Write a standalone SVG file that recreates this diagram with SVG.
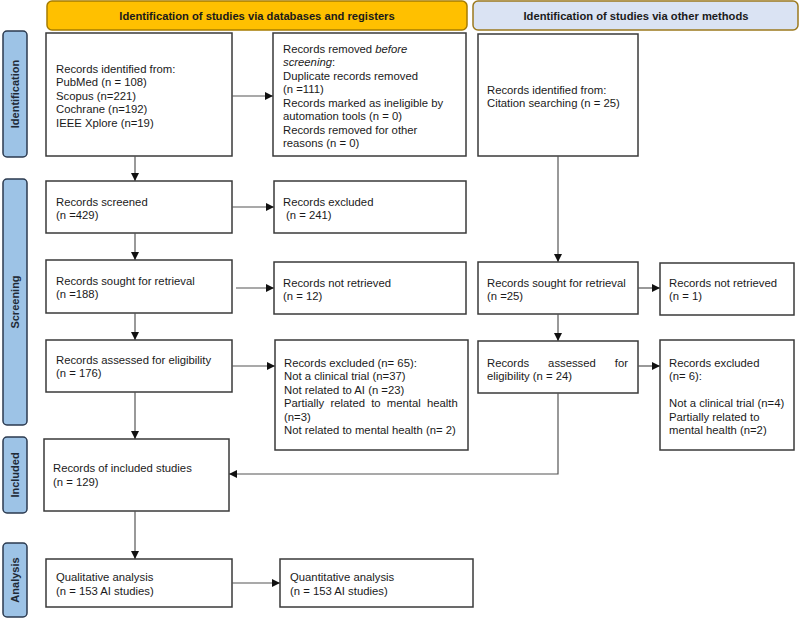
<svg xmlns="http://www.w3.org/2000/svg" width="800" height="619" viewBox="0 0 800 619">
<style>
text{font-family:"Liberation Sans",Arial,sans-serif;font-size:11.3px;fill:#1a1a1a}
.box{fill:#fff;stroke:#3a3a3a;stroke-width:1.5}
.side{fill:#9dc3e6;stroke:#2b3a4f;stroke-width:1.5}
.sl{font-weight:bold;font-size:11px;text-anchor:middle;fill:#1f2a36}
.hd{font-weight:bold;font-size:11.2px;text-anchor:middle;fill:#1a1a1a}
.c{fill:none;stroke:#555;stroke-width:1.2}
</style>
<defs>
<marker id="ah" viewBox="0 0 10 10" refX="10" refY="5" markerWidth="8" markerHeight="8" markerUnits="userSpaceOnUse" orient="auto">
<path d="M0,0 L10,5 L0,10 z" fill="#111"/>
</marker>
</defs>

<g id="header-db"><rect x="47" y="1" width="420" height="29" rx="5" fill="#ffc000" stroke="#a67c00" stroke-width="1.5"/><text class="hd" x="257" y="19.5">Identification of studies via databases and registers</text></g>
<g id="header-other"><rect x="473" y="1" width="325" height="29" rx="5" fill="#dae3f3" stroke="#9c7a1e" stroke-width="1.5"/><text class="hd" x="636" y="19.5">Identification of studies via other methods</text></g>

<g id="side-identification"><rect class="side" x="3" y="31" width="24" height="126" rx="4"/><text class="sl" transform="translate(19,94) rotate(-90)">Identification</text></g>
<g id="side-screening"><rect class="side" x="3" y="179" width="24" height="246" rx="4"/><text class="sl" transform="translate(19,302) rotate(-90)">Screening</text></g>
<g id="side-included"><rect class="side" x="3" y="437" width="24" height="76" rx="4"/><text class="sl" transform="translate(19,475) rotate(-90)">Included</text></g>
<g id="side-analysis"><rect class="side" x="3" y="543" width="24" height="74" rx="4"/><text class="sl" transform="translate(19,580) rotate(-90)">Analysis</text></g>

<g id="n-identified"><rect class="box" x="46" y="33" width="186" height="123"/>
<text x="56" y="72.5">Records identified from:</text>
<text x="56" y="86">PubMed (n = 108)</text>
<text x="56" y="99.5">Scopus (n=221)</text>
<text x="56" y="113">Cochrane (n=192)</text>
<text x="56" y="126.5">IEEE Xplore (n=19)</text></g>

<g id="n-removed"><rect class="box" x="273" y="33" width="193" height="123"/>
<text x="283" y="52.5">Records removed <tspan font-style="italic">before</tspan></text>
<text x="283" y="66"><tspan font-style="italic">screening</tspan>:</text>
<text x="283" y="79.5">Duplicate records removed</text>
<text x="283" y="93">(n =111)</text>
<text x="283" y="106.5">Records marked as ineligible by</text>
<text x="283" y="120">automation tools (n = 0)</text>
<text x="283" y="133.5">Records removed for other</text>
<text x="283" y="147">reasons (n = 0)</text></g>

<g id="n-citation"><rect class="box" x="478" y="34" width="160" height="122"/>
<text x="487" y="93.5">Records identified from:</text>
<text x="487" y="107">Citation searching (n = 25)</text></g>

<g id="n-screened"><rect class="box" x="46" y="181" width="186" height="52"/>
<text x="56" y="205.5">Records screened</text>
<text x="56" y="219">(n =429)</text></g>

<g id="n-excluded1"><rect class="box" x="274" y="181" width="192" height="52"/>
<text x="283" y="205.5">Records excluded</text>
<text x="286" y="219">(n = 241)</text></g>

<g id="n-sought"><rect class="box" x="46" y="260" width="186" height="53"/>
<text x="56" y="284.5">Records sought for retrieval</text>
<text x="56" y="298">(n =188)</text></g>

<g id="n-notretrieved"><rect class="box" x="274" y="262" width="192" height="52"/>
<text x="283" y="286.5">Records not retrieved</text>
<text x="283" y="300">(n = 12)</text></g>

<g id="n-sought2"><rect class="box" x="478" y="262" width="160" height="52"/>
<text x="487" y="286.5">Records sought for retrieval</text>
<text x="487" y="300">(n =25)</text></g>

<g id="n-notretrieved2"><rect class="box" x="660" y="263" width="134" height="52"/>
<text x="669" y="286.5">Records not retrieved</text>
<text x="669" y="300">(n = 1)</text></g>

<g id="n-assessed"><rect class="box" x="46" y="340" width="186" height="52"/>
<text x="56" y="363.5">Records assessed for eligibility</text>
<text x="56" y="377">(n = 176)</text></g>

<g id="n-excluded2"><rect class="box" x="275" y="340" width="193" height="110"/>
<text x="284" y="366.5">Records excluded (n= 65):</text>
<text x="284" y="380">Not a clinical trial (n=37)</text>
<text x="284" y="393.5">Not related to AI (n =23)</text>
<text x="284" y="407" word-spacing="3.1">Partially related to mental health</text>
<text x="284" y="420.5">(n=3)</text>
<text x="284" y="434">Not related to mental health (n= 2)</text></g>

<g id="n-assessed2"><rect class="box" x="478" y="341" width="160" height="52"/>
<text x="487" y="366.5" word-spacing="15.9">Records assessed for</text>
<text x="487" y="380">eligibility (n = 24)</text></g>

<g id="n-excluded3"><rect class="box" x="660" y="340" width="134" height="110"/>
<text x="669" y="366.5">Records excluded</text>
<text x="669" y="380">(n= 6):</text>
<text x="669" y="407">Not a clinical trial (n=4)</text>
<text x="669" y="420.5">Partially related to</text>
<text x="669" y="434">mental health (n=2)</text></g>

<g id="n-included"><rect class="box" x="44" y="439" width="185" height="72"/>
<text x="53" y="472">Records of included studies</text>
<text x="53" y="486">(n = 129)</text></g>

<g id="n-qualitative"><rect class="box" x="46" y="559" width="186" height="48"/>
<text x="56" y="581">Qualitative analysis</text>
<text x="56" y="594.5">(n = 153 AI studies)</text></g>

<g id="n-quantitative"><rect class="box" x="280" y="559" width="193" height="48"/>
<text x="290" y="581">Quantitative analysis</text>
<text x="290" y="594.5">(n = 153 AI studies)</text></g>

<g id="connectors">
<path class="c" d="M135,156 V181" marker-end="url(#ah)"/>
<path class="c" d="M232,96 H273" marker-end="url(#ah)"/>
<path class="c" d="M232,207 H274" marker-end="url(#ah)"/>
<path class="c" d="M135,233 V260" marker-end="url(#ah)"/>
<path class="c" d="M236,288 H274" marker-end="url(#ah)"/>
<path class="c" d="M135,313 V340" marker-end="url(#ah)"/>
<path class="c" d="M232,366 H275" marker-end="url(#ah)"/>
<path class="c" d="M135,392 V439" marker-end="url(#ah)"/>
<path class="c" d="M558,156 V262" marker-end="url(#ah)"/>
<path class="c" d="M638,288 H660" marker-end="url(#ah)"/>
<path class="c" d="M558,314 V341" marker-end="url(#ah)"/>
<path class="c" d="M638,366 H660" marker-end="url(#ah)"/>
<path class="c" d="M558,393 V474 H229" marker-end="url(#ah)"/>
<path class="c" d="M135,511 V559" marker-end="url(#ah)"/>
<path class="c" d="M232,583 H280" marker-end="url(#ah)"/>
</g>
</svg>
